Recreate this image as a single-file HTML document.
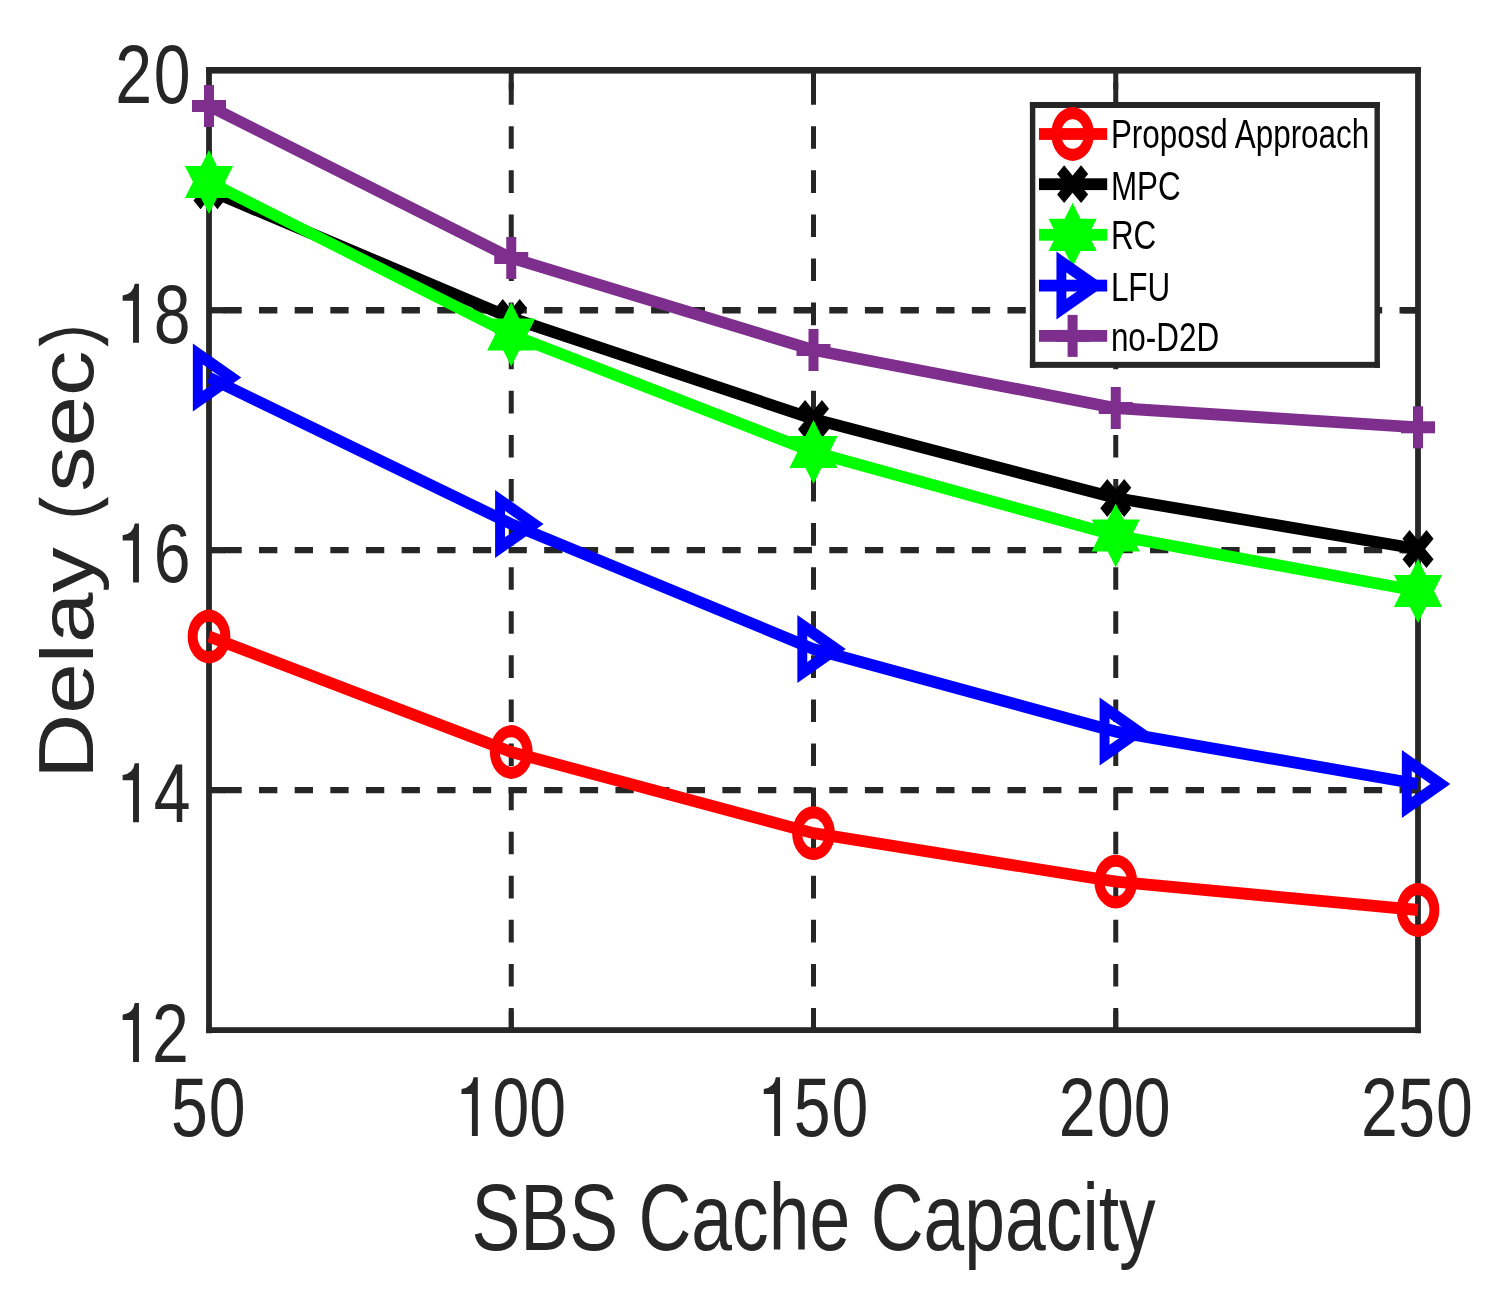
<!DOCTYPE html>
<html><head><meta charset="utf-8"><title>Delay vs SBS Cache Capacity</title>
<style>html,body{margin:0;padding:0;background:#fff;}svg{display:block;will-change:transform;}text{font-family:"Liberation Sans",sans-serif;}</style></head><body>
<svg width="1491" height="1304" viewBox="0 0 1491 1304">
<rect width="1491" height="1304" fill="#fff"/>
<g stroke="#262626" fill="none">
<line x1="511.25" y1="70.30" x2="511.25" y2="1030.10" stroke-width="5.0" stroke-dasharray="22.6 21.49" stroke-dashoffset="32.23"/>
<line x1="813.50" y1="70.30" x2="813.50" y2="1030.10" stroke-width="5.0" stroke-dasharray="22.6 21.49" stroke-dashoffset="32.23"/>
<line x1="1115.75" y1="70.30" x2="1115.75" y2="1030.10" stroke-width="5.0" stroke-dasharray="22.6 21.49" stroke-dashoffset="32.23"/>
<line x1="209.00" y1="310.25" x2="1418.00" y2="310.25" stroke-width="6.3" stroke-dasharray="18.3 17.34" stroke-dashoffset="21.24"/>
<line x1="209.00" y1="550.20" x2="1418.00" y2="550.20" stroke-width="6.3" stroke-dasharray="18.3 17.34" stroke-dashoffset="21.24"/>
<line x1="209.00" y1="790.15" x2="1418.00" y2="790.15" stroke-width="6.3" stroke-dasharray="18.3 17.34" stroke-dashoffset="21.24"/>
</g>
<g stroke="#262626">
<line x1="511.25" y1="70.30" x2="511.25" y2="89.50" stroke-width="5.0"/>
<line x1="511.25" y1="1030.10" x2="511.25" y2="1010.90" stroke-width="5.0"/>
<line x1="813.50" y1="70.30" x2="813.50" y2="89.50" stroke-width="5.0"/>
<line x1="813.50" y1="1030.10" x2="813.50" y2="1010.90" stroke-width="5.0"/>
<line x1="1115.75" y1="70.30" x2="1115.75" y2="89.50" stroke-width="5.0"/>
<line x1="1115.75" y1="1030.10" x2="1115.75" y2="1010.90" stroke-width="5.0"/>
<line x1="209.00" y1="310.25" x2="225.00" y2="310.25" stroke-width="6.3"/>
<line x1="1418.00" y1="310.25" x2="1402.00" y2="310.25" stroke-width="6.3"/>
<line x1="209.00" y1="550.20" x2="225.00" y2="550.20" stroke-width="6.3"/>
<line x1="1418.00" y1="550.20" x2="1402.00" y2="550.20" stroke-width="6.3"/>
<line x1="209.00" y1="790.15" x2="225.00" y2="790.15" stroke-width="6.3"/>
<line x1="1418.00" y1="790.15" x2="1402.00" y2="790.15" stroke-width="6.3"/>
</g>
<g fill="#262626">
<rect x="206.10" y="67.15" width="5.8" height="966.10"/>
<rect x="1415.10" y="67.15" width="5.8" height="966.10"/>
<rect x="206.10" y="67.00" width="1214.80" height="6.6"/>
<rect x="206.10" y="1027.20" width="1214.80" height="5.8"/>
</g>
<polyline transform="scale(1,1.2)" points="209.00,530.42 511.25,626.67 813.50,694.33 1115.75,734.67 1418.00,758.33" fill="none" stroke="#FF0000" stroke-width="9.85" stroke-linejoin="miter"/>
<path fill="#FF0000" fill-rule="evenodd" d="M187.60,636.50a21.4,26.9 0 1,0 42.8,0a21.4,26.9 0 1,0 -42.8,0ZM197.60,636.50a11.4,14.75 0 1,0 22.8,0a11.4,14.75 0 1,0 -22.8,0Z"/>
<path fill="#FF0000" fill-rule="evenodd" d="M489.85,752.00a21.4,26.9 0 1,0 42.8,0a21.4,26.9 0 1,0 -42.8,0ZM499.85,752.00a11.4,14.75 0 1,0 22.8,0a11.4,14.75 0 1,0 -22.8,0Z"/>
<path fill="#FF0000" fill-rule="evenodd" d="M792.10,833.20a21.4,26.9 0 1,0 42.8,0a21.4,26.9 0 1,0 -42.8,0ZM802.10,833.20a11.4,14.75 0 1,0 22.8,0a11.4,14.75 0 1,0 -22.8,0Z"/>
<path fill="#FF0000" fill-rule="evenodd" d="M1094.35,881.60a21.4,26.9 0 1,0 42.8,0a21.4,26.9 0 1,0 -42.8,0ZM1104.35,881.60a11.4,14.75 0 1,0 22.8,0a11.4,14.75 0 1,0 -22.8,0Z"/>
<path fill="#FF0000" fill-rule="evenodd" d="M1396.60,910.00a21.4,26.9 0 1,0 42.8,0a21.4,26.9 0 1,0 -42.8,0ZM1406.60,910.00a11.4,14.75 0 1,0 22.8,0a11.4,14.75 0 1,0 -22.8,0Z"/>
<polyline transform="scale(1,1.2)" points="209.00,158.58 511.25,265.00 813.50,349.17 1115.75,415.00 1418.00,457.50" fill="none" stroke="#000000" stroke-width="9.85" stroke-linejoin="miter"/>
<g transform="translate(209.00,190.30) scale(1,1.215)" stroke="#000000" stroke-width="10" stroke-linecap="butt"><line x1="-12.0" y1="-12.0" x2="12.0" y2="12.0"/><line x1="-12.0" y1="12.0" x2="12.0" y2="-12.0"/></g>
<g transform="translate(511.25,318.00) scale(1,1.215)" stroke="#000000" stroke-width="10" stroke-linecap="butt"><line x1="-12.0" y1="-12.0" x2="12.0" y2="12.0"/><line x1="-12.0" y1="12.0" x2="12.0" y2="-12.0"/></g>
<g transform="translate(813.50,419.00) scale(1,1.215)" stroke="#000000" stroke-width="10" stroke-linecap="butt"><line x1="-12.0" y1="-12.0" x2="12.0" y2="12.0"/><line x1="-12.0" y1="12.0" x2="12.0" y2="-12.0"/></g>
<g transform="translate(1115.75,498.00) scale(1,1.215)" stroke="#000000" stroke-width="10" stroke-linecap="butt"><line x1="-12.0" y1="-12.0" x2="12.0" y2="12.0"/><line x1="-12.0" y1="12.0" x2="12.0" y2="-12.0"/></g>
<g transform="translate(1418.00,549.00) scale(1,1.215)" stroke="#000000" stroke-width="10" stroke-linecap="butt"><line x1="-12.0" y1="-12.0" x2="12.0" y2="12.0"/><line x1="-12.0" y1="12.0" x2="12.0" y2="-12.0"/></g>
<polyline transform="scale(1,1.2)" points="209.00,151.67 511.25,278.75 813.50,376.67 1115.75,446.25 1418.00,492.50" fill="none" stroke="#00FF00" stroke-width="9.85" stroke-linejoin="miter"/>
<g transform="translate(209.00,182.00)" fill="#00FF00"><polygon points="0,-32.1 24.1,16.1 -24.1,16.1"/><polygon points="0,32.1 24.1,-16.1 -24.1,-16.1"/></g>
<g transform="translate(511.25,334.50)" fill="#00FF00"><polygon points="0,-32.1 24.1,16.1 -24.1,16.1"/><polygon points="0,32.1 24.1,-16.1 -24.1,-16.1"/></g>
<g transform="translate(813.50,452.00)" fill="#00FF00"><polygon points="0,-32.1 24.1,16.1 -24.1,16.1"/><polygon points="0,32.1 24.1,-16.1 -24.1,-16.1"/></g>
<g transform="translate(1115.75,535.50)" fill="#00FF00"><polygon points="0,-32.1 24.1,16.1 -24.1,16.1"/><polygon points="0,32.1 24.1,-16.1 -24.1,-16.1"/></g>
<g transform="translate(1418.00,591.00)" fill="#00FF00"><polygon points="0,-32.1 24.1,16.1 -24.1,16.1"/><polygon points="0,32.1 24.1,-16.1 -24.1,-16.1"/></g>
<polyline transform="scale(1,1.2)" points="209.00,314.67 511.25,436.67 813.50,540.83 1115.75,609.67 1418.00,653.33" fill="none" stroke="#0000FF" stroke-width="9.85" stroke-linejoin="miter"/>
<g transform="translate(209.00,377.60) scale(1,1.215)" fill="none" stroke="#0000FF" stroke-width="9.9" stroke-linejoin="miter" stroke-miterlimit="10"><polygon points="22.40,0 -11.20,19.40 -11.20,-19.40"/></g>
<g transform="translate(511.25,524.00) scale(1,1.215)" fill="none" stroke="#0000FF" stroke-width="9.9" stroke-linejoin="miter" stroke-miterlimit="10"><polygon points="22.40,0 -11.20,19.40 -11.20,-19.40"/></g>
<g transform="translate(813.50,649.00) scale(1,1.215)" fill="none" stroke="#0000FF" stroke-width="9.9" stroke-linejoin="miter" stroke-miterlimit="10"><polygon points="22.40,0 -11.20,19.40 -11.20,-19.40"/></g>
<g transform="translate(1115.75,731.60) scale(1,1.215)" fill="none" stroke="#0000FF" stroke-width="9.9" stroke-linejoin="miter" stroke-miterlimit="10"><polygon points="22.40,0 -11.20,19.40 -11.20,-19.40"/></g>
<g transform="translate(1418.00,784.00) scale(1,1.215)" fill="none" stroke="#0000FF" stroke-width="9.9" stroke-linejoin="miter" stroke-miterlimit="10"><polygon points="22.40,0 -11.20,19.40 -11.20,-19.40"/></g>
<polyline transform="scale(1,1.2)" points="209.00,88.33 511.25,215.00 813.50,291.67 1115.75,340.00 1418.00,356.08" fill="none" stroke="#7E2F8E" stroke-width="9.85" stroke-linejoin="miter"/>
<rect x="192.00" y="100.00" width="34" height="12" fill="#7E2F8E"/><rect x="204.00" y="85.00" width="10" height="42" fill="#7E2F8E"/>
<rect x="494.25" y="252.00" width="34" height="12" fill="#7E2F8E"/><rect x="506.25" y="237.00" width="10" height="42" fill="#7E2F8E"/>
<rect x="796.50" y="344.00" width="34" height="12" fill="#7E2F8E"/><rect x="808.50" y="329.00" width="10" height="42" fill="#7E2F8E"/>
<rect x="1098.75" y="402.00" width="34" height="12" fill="#7E2F8E"/><rect x="1110.75" y="387.00" width="10" height="42" fill="#7E2F8E"/>
<rect x="1401.00" y="421.30" width="34" height="12" fill="#7E2F8E"/><rect x="1413.00" y="406.30" width="10" height="42" fill="#7E2F8E"/>
<rect x="1032.60" y="105.00" width="344.60" height="259.85" fill="#fff" stroke="none"/>
<g fill="#262626">
<rect x="1029.90" y="102.00" width="5.4" height="265.85"/>
<rect x="1374.50" y="102.00" width="5.4" height="265.85"/>
<rect x="1029.90" y="102.00" width="350.00" height="6"/>
<rect x="1029.90" y="361.85" width="350.00" height="6"/>
</g>
<rect x="1039" y="128.10" width="68.2" height="11.8" fill="#FF0000"/>
<path fill="#FF0000" fill-rule="evenodd" d="M1051.20,134.00a21.4,26.9 0 1,0 42.8,0a21.4,26.9 0 1,0 -42.8,0ZM1061.20,134.00a11.4,14.75 0 1,0 22.8,0a11.4,14.75 0 1,0 -22.8,0Z"/>
<text transform="translate(1110.9,148.20) scale(0.966,1.245)" font-size="32.5" fill="#000">Proposd Approach</text>
<rect x="1039" y="178.30" width="68.2" height="11.8" fill="#000000"/>
<g transform="translate(1072.60,184.20) scale(1,1.215)" stroke="#000000" stroke-width="10" stroke-linecap="butt"><line x1="-12.0" y1="-12.0" x2="12.0" y2="12.0"/><line x1="-12.0" y1="12.0" x2="12.0" y2="-12.0"/></g>
<text transform="translate(1110.9,199.60) scale(0.966,1.245)" font-size="32.5" fill="#000">MPC</text>
<rect x="1039" y="228.90" width="68.2" height="11.8" fill="#00FF00"/>
<g transform="translate(1072.60,234.80)" fill="#00FF00"><polygon points="0,-32.1 24.1,16.1 -24.1,16.1"/><polygon points="0,32.1 24.1,-16.1 -24.1,-16.1"/></g>
<text transform="translate(1110.9,249.10) scale(0.966,1.245)" font-size="32.5" fill="#000">RC</text>
<rect x="1039" y="279.70" width="68.2" height="11.8" fill="#0000FF"/>
<g transform="translate(1072.60,285.60) scale(1,1.215)" fill="none" stroke="#0000FF" stroke-width="9.9" stroke-linejoin="miter" stroke-miterlimit="10"><polygon points="22.40,0 -11.20,19.40 -11.20,-19.40"/></g>
<text transform="translate(1110.9,300.60) scale(0.966,1.245)" font-size="32.5" fill="#000">LFU</text>
<rect x="1039" y="330.00" width="68.2" height="11.8" fill="#7E2F8E"/>
<rect x="1055.60" y="329.90" width="34" height="12" fill="#7E2F8E"/><rect x="1067.60" y="314.90" width="10" height="42" fill="#7E2F8E"/>
<text transform="translate(1110.9,350.50) scale(0.966,1.245)" font-size="32.5" fill="#000">no-D2D</text>
<text transform="translate(170.90,1136.00) scale(0.9879,1.255)" font-size="67" fill="#262626">5</text><text transform="translate(208.70,1136.00) scale(0.9879,1.255)" font-size="67" fill="#262626">0</text>
<path transform="translate(477.80,1136.00)" fill="#262626" d="M0,0 L0,-58.8 L-4.2,-58.8 Q-5.6,-48.4 -16.3,-47.1 L-16.3,-41.9 L-5.9,-41.9 L-5.9,0 Z"/><text transform="translate(492.55,1136.00) scale(0.9879,1.255)" font-size="67" fill="#262626">0</text><text transform="translate(529.35,1136.00) scale(0.9879,1.255)" font-size="67" fill="#262626">0</text>
<path transform="translate(780.05,1136.00)" fill="#262626" d="M0,0 L0,-58.8 L-4.2,-58.8 Q-5.6,-48.4 -16.3,-47.1 L-16.3,-41.9 L-5.9,-41.9 L-5.9,0 Z"/><text transform="translate(793.80,1136.00) scale(0.9879,1.255)" font-size="67" fill="#262626">5</text><text transform="translate(831.60,1136.00) scale(0.9879,1.255)" font-size="67" fill="#262626">0</text>
<text transform="translate(1058.65,1136.00) scale(0.9879,1.255)" font-size="67" fill="#262626">2</text><text transform="translate(1097.05,1136.00) scale(0.9879,1.255)" font-size="67" fill="#262626">0</text><text transform="translate(1133.85,1136.00) scale(0.9879,1.255)" font-size="67" fill="#262626">0</text>
<text transform="translate(1360.90,1136.00) scale(0.9879,1.255)" font-size="67" fill="#262626">2</text><text transform="translate(1398.30,1136.00) scale(0.9879,1.255)" font-size="67" fill="#262626">5</text><text transform="translate(1436.10,1136.00) scale(0.9879,1.255)" font-size="67" fill="#262626">0</text>
<path transform="translate(138.95,1061.90)" fill="#262626" d="M0,0 L0,-58.8 L-4.2,-58.8 Q-5.6,-48.4 -16.3,-47.1 L-16.3,-41.9 L-5.9,-41.9 L-5.9,0 Z"/><text transform="translate(152.10,1061.90) scale(0.9879,1.255)" font-size="67" fill="#262626">2</text>
<path transform="translate(138.95,822.15)" fill="#262626" d="M0,0 L0,-58.8 L-4.2,-58.8 Q-5.6,-48.4 -16.3,-47.1 L-16.3,-41.9 L-5.9,-41.9 L-5.9,0 Z"/><text transform="translate(153.70,822.15) scale(0.9879,1.255)" font-size="67" fill="#262626">4</text>
<path transform="translate(138.95,582.40)" fill="#262626" d="M0,0 L0,-58.8 L-4.2,-58.8 Q-5.6,-48.4 -16.3,-47.1 L-16.3,-41.9 L-5.9,-41.9 L-5.9,0 Z"/><text transform="translate(153.70,582.40) scale(0.9879,1.255)" font-size="67" fill="#262626">6</text>
<path transform="translate(138.95,342.65)" fill="#262626" d="M0,0 L0,-58.8 L-4.2,-58.8 Q-5.6,-48.4 -16.3,-47.1 L-16.3,-41.9 L-5.9,-41.9 L-5.9,0 Z"/><text transform="translate(153.70,342.65) scale(0.9879,1.255)" font-size="67" fill="#262626">8</text>
<text transform="translate(115.30,102.90) scale(0.9879,1.255)" font-size="67" fill="#262626">2</text><text transform="translate(153.70,102.90) scale(0.9879,1.255)" font-size="67" fill="#262626">0</text>
<text transform="translate(813.60,1250.00) scale(0.9945,1.29)" font-size="73.7" text-anchor="middle" fill="#262626">SBS Cache Capacity</text>
<text transform="translate(92.80,779.10) rotate(-90) scale(1.23,1.055)" font-size="73.7" text-anchor="start" fill="#262626">D</text>
<text transform="translate(92.80,713.65) rotate(-90) scale(1.23,1.02)" font-size="73.7" text-anchor="start" fill="#262626">e</text>
<text transform="translate(92.80,663.25) rotate(-90) scale(1.23,1.015)" font-size="73.7" text-anchor="start" fill="#262626">l</text>
<text transform="translate(92.80,643.12) rotate(-90) scale(1.23,1.02)" font-size="73.7" text-anchor="start" fill="#262626">ay</text>
<text transform="translate(92.80,421.30) rotate(-90) scale(1.23,1.02)" font-size="73.7" text-anchor="middle" fill="#262626">sec</text>
<path fill="#262626" d="M38.8,504.5 Q73.5,526.3 108.2,504.5 L108.2,496.9 Q73.5,523.1 38.8,496.9 Z"/>
<path fill="#262626" d="M38.8,338.8 Q73.5,317.6 108.2,338.8 L108.2,346.4 Q73.5,320.8 38.8,346.4 Z"/>
</svg></body></html>
